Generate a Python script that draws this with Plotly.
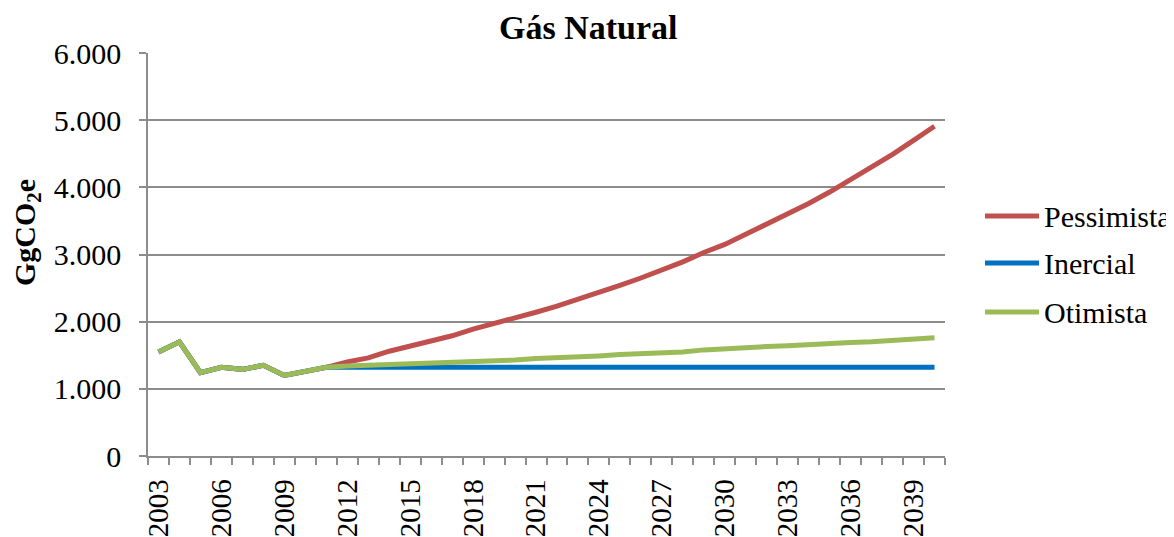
import plotly.graph_objects as go

years = list(range(2003, 2041))
pessimista = [1550, 1700, 1240, 1320, 1290, 1350, 1200, 1260, 1320,
              1400, 1460, 1560, 1640, 1720, 1790, 1890, 1970, 2050, 2140,
              2230, 2330, 2430, 2540, 2650, 2770, 2890, 3030, 3150, 3300,
              3450, 3610, 3760, 3930, 4110, 4310, 4490, 4700, 4910]
inercial = [1550, 1700, 1240, 1320, 1290, 1350, 1200, 1260, 1320,
            1320, 1320, 1320, 1320, 1320, 1320, 1320, 1320, 1320, 1320,
            1320, 1320, 1320, 1320, 1320, 1320, 1320, 1320, 1320, 1320,
            1320, 1320, 1320, 1320, 1320, 1320, 1320, 1320, 1320]
otimista = [1550, 1700, 1240, 1320, 1290, 1350, 1200, 1260, 1320,
            1340, 1350, 1370, 1370, 1380, 1400, 1400, 1420, 1430, 1450,
            1460, 1480, 1490, 1510, 1520, 1540, 1550, 1580, 1600, 1610,
            1630, 1640, 1660, 1670, 1690, 1700, 1720, 1750, 1760]
label_years = list(range(2003, 2041, 3))
series_names = ["Pessimista", "Inercial", "Otimista"]
series_colors = ["#C0504D", "#0070C0", "#9BBB59"]

font_family = "Liberation Serif, Times New Roman, serif"
grid_col = "#8c8c8c"

# figure geometry (page is offset by 8px body margin)
W, H = 1166, 529
L, T, R, B = 140, 45, 229, 81
PW, PH = W - L - R, H - T - B


def px(fx):
    return (fx - L) / PW


def py(fy):
    return (H - B - fy) / PH


fig = go.Figure()
for name, vals, col in zip(series_names, [pessimista, inercial, otimista], series_colors):
    fig.add_trace(go.Scatter(x=years, y=vals, name=name, mode="lines",
                             line=dict(color=col, width=5), showlegend=False))

annotations = [
    dict(text="<b>Gás Natural</b>", xref="paper", yref="paper",
         x=px(580), y=py(19), xanchor="center", yanchor="middle", showarrow=False,
         font=dict(family=font_family, size=34, color="black")),
    dict(text="<b>GgCO<sub>2</sub>e</b>", xref="paper", yref="paper",
         x=px(19), y=py(225), xanchor="center", yanchor="middle", showarrow=False,
         textangle=-90, font=dict(family=font_family, size=30, color="black")),
]
shapes = []
legend_y = [208, 255, 304]
for name, col, ly in zip(series_names, series_colors, legend_y):
    shapes.append(dict(type="line", xref="paper", yref="paper",
                       x0=px(977), x1=px(1031), y0=py(ly), y1=py(ly),
                       line=dict(color=col, width=5)))
    annotations.append(dict(text=name, xref="paper", yref="paper",
                            x=px(1034), y=py(ly), xanchor="left", yanchor="middle",
                            showarrow=False,
                            font=dict(family=font_family, size=30, color="black")))

fig.update_layout(
    width=W, height=H,
    margin=dict(l=L, r=R, t=T, b=B, autoexpand=False),
    paper_bgcolor="white", plot_bgcolor="white",
    separators=",.",
    font=dict(family=font_family, size=22, color="black"),
    showlegend=False,
    annotations=annotations,
    shapes=shapes,
)
fig.update_xaxes(
    range=[2002.5, 2040.5],
    tickvals=label_years, ticktext=[str(y) for y in label_years],
    tickangle=-90, ticks="", showgrid=False, automargin=False,
    showline=True, linecolor=grid_col, linewidth=1.5,
    tickfont=dict(family=font_family, size=29),
    ticklabelstandoff=10,
    minor=dict(tickvals=[y - 0.5 for y in years] + [2040.5], ticks="outside",
               ticklen=7, tickcolor=grid_col, tickwidth=1.5, showgrid=False),
    zeroline=False,
)
fig.update_yaxes(
    range=[0, 6000], dtick=1000, tickformat=",d", automargin=False,
    showgrid=True, gridcolor=grid_col, gridwidth=1.5,
    showline=True, linecolor=grid_col, linewidth=1.5,
    ticks="outside", ticklen=7, tickcolor=grid_col, tickwidth=1.5,
    tickfont=dict(family=font_family, size=30),
    ticklabelstandoff=12,
    zeroline=False,
)
fig.write_html("out.html")
